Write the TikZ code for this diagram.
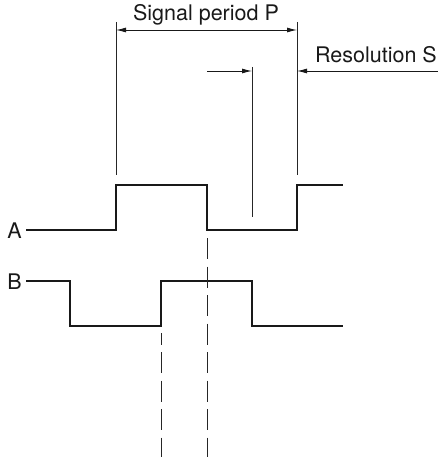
\documentclass[tikz,border=0pt]{standalone}
\usepackage{fontspec}
\setmainfont{TeX Gyre Heros}
\usetikzlibrary{calc}
\usetikzlibrary{arrows.meta}
\tikzset{
  signal/.style={black!90,line width=1.8pt},
  guide/.style={black!85,line width=0.9pt},
  tip/.style={black!90,line width=0.9pt},
  gap/.style={black!85,line width=0.9pt,dash pattern=on 21pt off 7.5pt},
  lbl/.style={font=\fontsize{21.5}{25}\selectfont,inner sep=0pt,text=black!90}
}

\begin{document}
\begin{tikzpicture}[x=1pt,y=-1pt]
\useasboundingbox (0,0) rectangle (438,457);

\coordinate (A0) at (26,230);
\coordinate (A1) at (116,185);
\coordinate (A2) at (207,230);
\coordinate (A3) at (297,185);
\coordinate (A4) at (343,185);
\coordinate (B0) at (26,281);
\coordinate (B1) at (70,326);
\coordinate (B2) at (161,281);
\coordinate (B3) at (252,326);
\coordinate (B4) at (343,326);

\node[lbl,anchor=east] (A) at (22,231) {A};
\node[lbl,anchor=east] (B) at (22,282) {B};

\draw[signal] (A0) -| (A1) -| (A2) -| (A3) -- (A4);
\draw[signal] (B0) -| (B1) -| (B2) -| (B3) -- (B4);

\coordinate (P1) at (116,22);
\coordinate (P2) at (297,22);
\coordinate (S1) at (252,67);
\draw[guide] (P1) -- (116,175);
\draw[guide] (P2) -- (297,175);
\draw[guide] (S1) -- (252,217);

\draw[tip,{Latex[length=10pt,width=5pt]}-{Latex[length=10pt,width=5pt]}] (116,30) -- (297,30);
\node[lbl,anchor=base] (period) at (206,21) {Signal period P};

\node[lbl,anchor=base east] (res) at (437,63) {Resolution S};
\draw[tip,-{Latex[length=10pt,width=5pt]}] (438,71) -- (297,71);
\draw[tip,-{Latex[length=10pt,width=5pt]}] (207,71) -- (252,71);

\draw[gap] (207,238) -- (207,457);
\draw[gap,dash phase=9.5pt] (161,333) -- (161,457);

\end{tikzpicture}
\end{document}
